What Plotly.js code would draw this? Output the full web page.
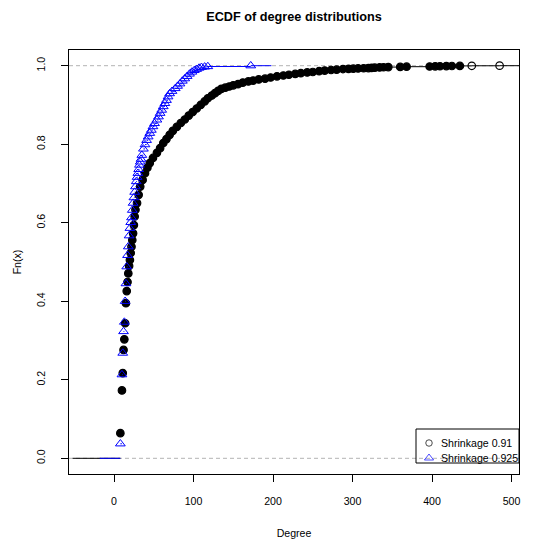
<!DOCTYPE html>
<html><head><meta charset="utf-8">
<script src="https://cdn.plot.ly/plotly-3.0.1.min.js"></script>
<style>html,body{margin:0;padding:0;background:#fff}#chart{width:550px;height:539px}</style>
</head><body><div id="chart"></div>
<script>
// ---- data ----
const seriesNames = ['Shrinkage 0.91', 'Shrinkage 0.925'];
const degree091 = [8,10,11,12,13,14,15,16,17,18,19,20,21,22,23,24,25,26,27,29,31,33,36,39,42,45,49,54,58,62,66,70,74,79,84,89,94,99,104,109,114,118,123,127,131,135,140,145,150,156,162,169,175,182,190,197,205,213,220,228,235,243,250,258,265,273,280,288,295,301,307,314,320,324,328,334,339,345,360,368,397,404,410,418,425,435,450,485];
const fn091 = [0.064,0.173,0.217,0.276,0.303,0.344,0.395,0.426,0.449,0.471,0.490,0.505,0.523,0.539,0.556,0.573,0.594,0.616,0.633,0.650,0.671,0.692,0.709,0.726,0.740,0.752,0.765,0.778,0.790,0.803,0.813,0.824,0.834,0.844,0.854,0.863,0.873,0.882,0.891,0.900,0.909,0.917,0.924,0.930,0.936,0.941,0.944,0.947,0.950,0.953,0.957,0.960,0.962,0.965,0.967,0.970,0.973,0.975,0.977,0.979,0.981,0.983,0.984,0.986,0.9875,0.989,0.990,0.9915,0.992,0.9925,0.993,0.9935,0.994,0.9945,0.995,0.9955,0.996,0.9965,0.997,0.9975,0.998,0.9983,0.9986,0.999,0.9992,0.9995,0.9998,1.0];
const degree0925 = [8,10,11,12,13,14,15,16,17,18,19,20,21,22,23,24,25,26,27,28,29,30,31,32,33,34,35,37,39,41,43,45,47,49,51,54,56,58,60,62,64,66,68,70,73,77,80,83,86,89,92,95,98,101,104,107,110,114,118,172];
const fn0925 = [0.037,0.213,0.268,0.323,0.347,0.400,0.445,0.488,0.517,0.539,0.567,0.586,0.601,0.613,0.632,0.650,0.664,0.678,0.692,0.705,0.716,0.726,0.736,0.747,0.755,0.762,0.772,0.788,0.799,0.810,0.819,0.828,0.836,0.845,0.853,0.862,0.870,0.879,0.887,0.896,0.904,0.912,0.921,0.929,0.935,0.942,0.948,0.954,0.961,0.967,0.973,0.979,0.984,0.988,0.991,0.994,0.996,0.997,0.998,1.0];
// extent of each step function's horizontal lines (data units)
const stepExtent091 = [-52, 545];
const stepExtent0925 = [-18, 198];
const xTickVals = [0,100,200,300,400,500];
const yTickVals = [0,0.2,0.4,0.6,0.8,1.0];

// build horizontal step segments (no verticals), like R's plot.stepfun
function stepSegments(xs, ys, ext) {
  const sx = [ext[0], xs[0], null], sy = [0, 0, null];
  for (let i = 0; i < xs.length; i++) {
    const xe = i < xs.length - 1 ? xs[i + 1] : ext[1];
    sx.push(xs[i], xe, null); sy.push(ys[i], ys[i], null);
  }
  return {x: sx, y: sy};
}
const seg1 = stepSegments(degree091, fn091, stepExtent091);
const seg2 = stepSegments(degree0925, fn0925, stepExtent0925);
const sym1 = degree091.map((d, i) => i >= degree091.length - 2 ? 'circle-open' : 'circle');

// legend box geometry, in plot-area pixels (overlay axes x2/y2)
const LEG = {x0: 347, x1: 450, y0: 379, y1: 413, symX: 360, textX: 370, rowY: [393, 408]};

const FONT = 'Liberation Sans, Arial, Helvetica, sans-serif';
const traces = [
  {x: seg1.x, y: seg1.y, mode: 'lines', line: {color: '#000', width: 1}, showlegend: false, hoverinfo: 'skip'},
  {x: degree091, y: fn091, mode: 'markers', marker: {symbol: sym1, size: 7.5, color: '#000', line: {color: '#000', width: 1.2}}, showlegend: false},
  {x: seg2.x, y: seg2.y, mode: 'lines', line: {color: '#0000FF', width: 1}, showlegend: false, hoverinfo: 'skip'},
  {x: degree0925, y: fn0925, mode: 'markers', marker: {symbol: 'triangle-up-open', size: 8.5, color: '#0000FF', line: {color: '#0000FF', width: 1}}, showlegend: false},
  // legend glyphs (R legend uses pch 1 and pch 2)
  {x: [LEG.symX, LEG.symX], y: LEG.rowY, xaxis: 'x2', yaxis: 'y2', mode: 'markers', showlegend: false, hoverinfo: 'skip',
   marker: {symbol: ['circle-open', 'triangle-up-open'], size: [6.5, 8], color: ['#000', '#0000FF'], line: {width: 1, color: ['#000', '#0000FF']}}}
];

const layout = {
  width: 550, height: 539,
  margin: {l: 69, r: 31, t: 50, b: 65},
  paper_bgcolor: '#fff', plot_bgcolor: '#fff',
  font: {family: FONT, size: 10.6, color: '#000'},
  showlegend: false,
  title: {text: '<b>ECDF of degree distributions</b>', font: {family: FONT, size: 12.7, color: '#000'},
          x: 0.5, xref: 'paper', xanchor: 'center', y: 1 - 17/539, yref: 'container', yanchor: 'middle'},
  xaxis: {range: [-56.6, 509.4], tickvals: xTickVals, ticks: 'outside', ticklen: 7, tickcolor: '#000',
          showline: true, mirror: true, linecolor: '#000', linewidth: 1, showgrid: false, zeroline: false,
          ticklabelstandoff: 10, tickfont: {size: 10.6},
          title: {text: 'Degree', font: {size: 10.6}, standoff: 23}},
  yaxis: {range: [-0.04, 1.04], tickvals: yTickVals, tickformat: '.1f', ticks: 'outside', ticklen: 7, tickcolor: '#000',
          tickangle: -90, showline: true, mirror: true, linecolor: '#000', linewidth: 1, showgrid: false, zeroline: false,
          ticklabelstandoff: 12, tickfont: {size: 10.6},
          title: {text: 'Fn(x)', font: {size: 10.6}, standoff: 11}},
  xaxis2: {overlaying: 'x', range: [0, 450], visible: false, fixedrange: true},
  yaxis2: {overlaying: 'y', range: [424, 0], visible: false, fixedrange: true},
  shapes: [0, 1].map(v => ({type: 'line', xref: 'paper', x0: 0, x1: 1, yref: 'y', y0: v, y1: v, layer: 'below',
          line: {color: '#B3B3B3', width: 1, dash: '4px,3px'}})).concat([
          {type: 'rect', xref: 'x2', yref: 'y2', x0: LEG.x0, x1: LEG.x1, y0: LEG.y0, y1: LEG.y1,
           line: {color: '#000', width: 1}, fillcolor: 'rgba(0,0,0,0)'}]),
  annotations: seriesNames.map((name, i) => ({text: name, xref: 'x2', yref: 'y2', x: LEG.textX, y: LEG.rowY[i],
          xanchor: 'left', yanchor: 'middle', showarrow: false, font: {size: 10.6, color: '#000'}}))
};
Plotly.newPlot('chart', traces, layout, {displayModeBar: false, staticPlot: true});
</script></body></html>
